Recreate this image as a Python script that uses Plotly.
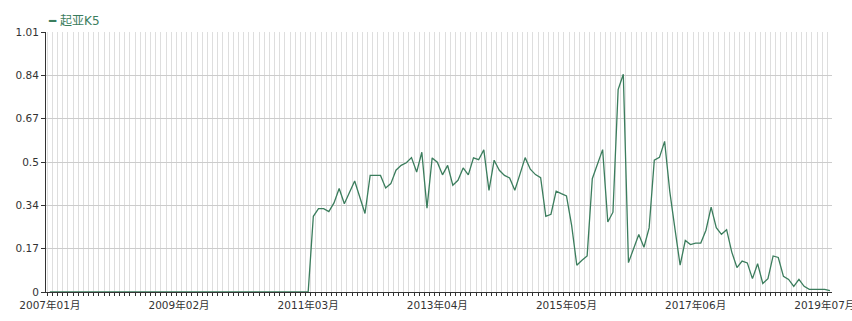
import plotly.graph_objects as go

# Monthly categories 2007-01 .. 2019-08
months = []
y, m = 2007, 1
for _ in range(152):
    months.append(f"{y}年{m:02d}月")
    m += 1
    if m > 12:
        m = 1
        y += 1

series_name = "起亚K5"
values = [0.0] * 51 + [
    0.294, 0.324, 0.324, 0.312, 0.346, 0.402, 0.343, 0.387, 0.431,  # 51-59
    0.368, 0.305, 0.453, 0.453, 0.453, 0.404, 0.421, 0.473, 0.492, 0.502,  # 60-69
    0.522, 0.466, 0.543, 0.326, 0.521, 0.504, 0.455, 0.492, 0.415, 0.434,  # 70-79
    0.482, 0.455, 0.521, 0.514, 0.552, 0.395, 0.512, 0.473, 0.453, 0.443,  # 80-89
    0.395, 0.458, 0.522, 0.477, 0.456, 0.444, 0.294, 0.302, 0.392, 0.382,  # 90-99
    0.373, 0.259, 0.104, 0.123, 0.140, 0.440, 0.499, 0.553, 0.272, 0.310,  # 100-109
    0.786, 0.846, 0.114, 0.169, 0.223, 0.174, 0.249, 0.512, 0.523, 0.585,  # 110-119
    0.390, 0.245, 0.104, 0.200, 0.184, 0.190, 0.190, 0.240, 0.330, 0.250,  # 120-129
    0.224, 0.242, 0.155, 0.095, 0.120, 0.113, 0.052, 0.110, 0.033, 0.052,  # 130-139
    0.140, 0.134, 0.061, 0.049, 0.022, 0.049, 0.022, 0.010, 0.010, 0.010,  # 140-149
    0.010, 0.005,  # 150-151
]

y_max = 1.01
y_tick_vals = [y_max / 6 * k for k in range(7)]
y_tick_text = ["0", "0.17", "0.34", "0.5", "0.67", "0.84", "1.01"]
label_idx = [0, 25, 50, 75, 100, 125, 150]

line_color = "#3b7d5d"
font_family = "DejaVu Sans, Noto Sans CJK SC, sans-serif"

idx = list(range(len(months)))
fig = go.Figure()
fig.add_trace(go.Scatter(
    x=idx, y=values, mode="lines", name=series_name,
    line=dict(color=line_color, width=1.3),
    customdata=months, hovertemplate="%{customdata}: %{y}<extra></extra>",
    cliponaxis=False,
))

fig.update_layout(
    width=852, height=321,
    margin=dict(l=46, r=20, t=32, b=29, autoexpand=False),
    paper_bgcolor="white", plot_bgcolor="white",
    showlegend=False,
    font=dict(family=font_family, size=11, color="#333"),
    annotations=[dict(
        text=f"━ {series_name}", x=0, y=1 + (32 - 21) / 260,
        xref="paper", yref="paper",
        showarrow=False, xanchor="left", yanchor="middle",
        font=dict(size=12, color=line_color, family=font_family),
    )],
)

fig.update_xaxes(
    range=[-0.75, len(months) - 0.6],
    tickmode="array", tickvals=label_idx,
    ticktext=[months[i] for i in label_idx],
    ticklabeloverflow="allow", ticklabelstandoff=3, automargin=False,
    showgrid=False, ticks="", showline=True, linecolor="#333", linewidth=1,
    zeroline=False, tickfont=dict(size=10.5, color="#333"),
    minor=dict(tickmode="linear", tick0=0.5, dtick=1, showgrid=True,
               gridcolor="#dedede", gridwidth=1, ticks="outside",
               ticklen=3, tickcolor="#333"),
)
fig.update_yaxes(
    range=[0, y_max], tickmode="array", tickvals=y_tick_vals, ticktext=y_tick_text,
    showgrid=True, gridcolor="#cccccc", gridwidth=1, automargin=False,
    ticks="outside", ticklen=4, tickcolor="#333",
    showline=True, linecolor="#333", linewidth=1, zeroline=False,
    tickfont=dict(size=10.5, color="#333"),
)

fig.write_html("out.html")
